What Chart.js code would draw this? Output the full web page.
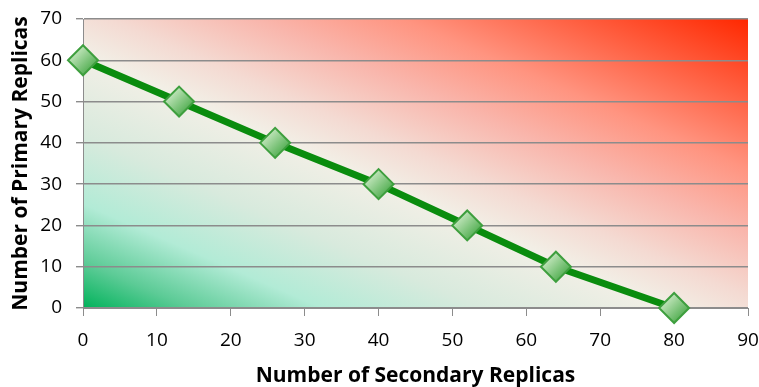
<!DOCTYPE html>
<html lang="en">
<head>
  <meta charset="UTF-8" />
  <title>Primary vs Secondary Replicas</title>
  <script src="https://cdn.jsdelivr.net/npm/chart.js@4"></script>
  <style>
    html, body { margin: 0; padding: 0; background: #fff; }
    #wrap { width: 759px; height: 387px; }
  </style>
</head>
<body>
  <div id="wrap"><canvas id="chart" width="759" height="387"></canvas></div>

  <script>
    // values
    const secondaryReplicas = [0, 13, 26, 40, 52, 64, 80];
    const primaryReplicas = [60, 50, 40, 30, 20, 10, 0];
    const xMin = 0, xMax = 90, xStep = 10;
    const yMin = 0, yMax = 70, yStep = 10;
    const xTitle = 'Number of Secondary Replicas';
    const yTitle = 'Number of Primary Replicas';

    const points = secondaryReplicas.map((x, i) => ({ x: x, y: primaryReplicas[i] }));

    // green -> beige -> red wash behind the plot, diagonal in the box's own frame
    const areaWash = {
      id: 'areaWash',
      beforeDraw(chart) {
        const { ctx, chartArea: a } = chart;
        const w = a.right - a.left, h = a.bottom - a.top;
        const t = 2 * w * h / (w * w + h * h);
        const g = ctx.createLinearGradient(a.left, a.bottom, a.left + t * h, a.bottom - t * w);
        g.addColorStop(0, '#00b25a');
        g.addColorStop(0.08, '#5ccb96');
        g.addColorStop(0.18, '#b2ebd6');
        g.addColorStop(0.3, '#d8eadd');
        g.addColorStop(0.44, '#f2efe6');
        g.addColorStop(0.52, '#f4dad2');
        g.addColorStop(0.63, '#f9b6ac');
        g.addColorStop(0.74, '#ff9480');
        g.addColorStop(0.86, '#ff6244');
        g.addColorStop(1, '#ff2800');
        ctx.save();
        ctx.fillStyle = g;
        ctx.fillRect(a.left, a.top, w, h);
        ctx.restore();
      }
    };

    function markerFill(c) {
      const chart = c.chart;
      if (!chart.chartArea || !c.parsed) return '#6cc06c';
      const px = chart.scales.x.getPixelForValue(c.parsed.x);
      const py = chart.scales.y.getPixelForValue(c.parsed.y);
      const g = chart.ctx.createLinearGradient(px - 10, py - 10, px + 10, py + 10);
      g.addColorStop(0, '#cdebc6');
      g.addColorStop(1, '#4aaa4a');
      return g;
    }

    const font = "'Open Sans', sans-serif";

    new Chart(document.getElementById('chart'), {
      type: 'line',
      data: {
        datasets: [{
          data: points,
          clip: false,
          borderColor: '#0a8c0e',
          borderWidth: 7,
          tension: 0,
          pointStyle: 'rectRot',
          pointRadius: 15,
          pointHoverRadius: 15,
          pointBorderWidth: 2,
          pointBorderColor: '#3e9f3e',
          pointBackgroundColor: markerFill
        }]
      },
      options: {
        responsive: false,
        animation: false,
        events: [],
        layout: { autoPadding: false, padding: { top: 19, right: 11, bottom: 0, left: 0 } },
        plugins: { legend: { display: false }, tooltip: { enabled: false } },
        scales: {
          x: {
            type: 'linear',
            min: xMin, max: xMax,
            afterFit(s) { s.height = 79; s.paddingLeft = 0; s.paddingRight = 0; },
            ticks: { stepSize: xStep, color: '#000', padding: 13, maxRotation: 0, font: { family: font, size: 19 } },
            grid: { drawOnChartArea: false, drawTicks: true, tickLength: 8, color: '#8c8c8c' },
            border: { color: '#8c8c8c', width: 1 },
            title: { display: true, text: xTitle, color: '#000', padding: { top: 0, bottom: -2 }, font: { family: font, size: 21, weight: 'bold' } }
          },
          y: {
            min: yMin, max: yMax,
            afterFit(s) { s.width = 83; s.paddingTop = 0; s.paddingBottom = 0; },
            ticks: { stepSize: yStep, color: '#000', padding: 14, font: { family: font, size: 19 } },
            grid: { color: '#8c8c8c', lineWidth: 1.4, drawTicks: true, tickLength: 7 },
            border: { color: '#8c8c8c', width: 1 },
            title: { display: true, text: yTitle, color: '#000', padding: { top: 8, bottom: 0 }, font: { family: font, size: 21, weight: 'bold' } }
          }
        }
      },
      plugins: [areaWash]
    });
  </script>
</body>
</html>
